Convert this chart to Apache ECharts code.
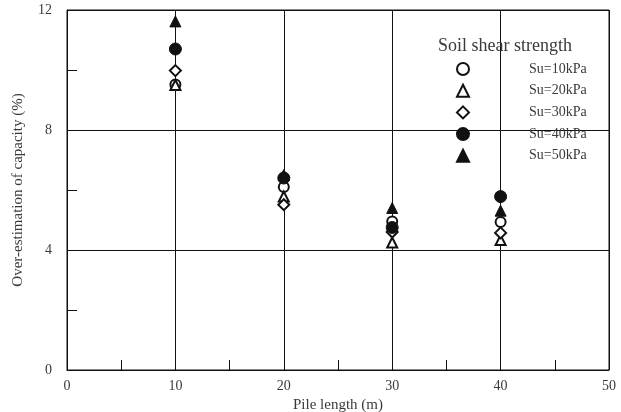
<!DOCTYPE html>
<html>
<head>
<meta charset="utf-8">
<script src="https://cdn.jsdelivr.net/npm/echarts@6/dist/echarts.min.js"></script>
<style>
  html, body { margin: 0; padding: 0; background: #fff; }
  #chart { width: 621px; height: 412px; }
</style>
</head>
<body>
<div id="chart"></div>
<script>
// pile length (m) on x, over-estimation of capacity (%) on y
const pileLength = [10, 20, 30, 40];
const su10 = [9.52, 6.1, 4.95, 4.93];
const su20 = [9.5, 5.78, 4.25, 4.33];
const su30 = [9.98, 5.51, 4.6, 4.57];
const su40 = [10.7, 6.4, 4.75, 5.78];
const su50 = [11.62, 6.5, 5.4, 5.31];
const seriesNames = ['Su=10kPa', 'Su=20kPa', 'Su=30kPa', 'Su=40kPa', 'Su=50kPa'];

const FONT = '"Liberation Serif", "DejaVu Serif", serif';
const INK = '#111';
const TEXT = '#3a3a3a';

function pts(ys) {
  return pileLength.map((x, i) => [x, ys[i]]);
}

// open markers: white fill, black edge; filled markers: solid black
function makeSeries(name, ys, symbol, size, filled) {
  return {
    name: name,
    type: 'scatter',
    data: pts(ys),
    symbol: symbol,
    symbolSize: size,
    itemStyle: filled
      ? { color: INK, borderColor: INK, borderWidth: 1, opacity: 1 }
      : { color: '#fff', borderColor: INK, borderWidth: 2, opacity: 1 },
  };
}

const chart = echarts.init(document.getElementById('chart'));

chart.setOption({
  animation: false,
  backgroundColor: '#fff',
  title: {
    text: 'Soil shear strength',
    left: 433,
    top: 32,
    textStyle: { fontFamily: FONT, fontSize: 18, fontWeight: 'normal', color: TEXT },
  },
  legend: {
    orient: 'vertical',
    left: 456,
    top: 62,
    padding: 0,
    itemWidth: 12,
    itemHeight: 12,
    itemGap: 7.7,
    textStyle: { fontFamily: FONT, fontSize: 14, color: TEXT, lineHeight: 12, padding: [0, 0, 0, 55] },
    data: seriesNames,
  },
  grid: {
    left: 67, right: 12, top: 10, bottom: 42,
    outerBoundsMode: 'none',
    show: true, borderColor: INK, borderWidth: 1,
  },
  xAxis: {
    type: 'value',
    min: 0, max: 50, interval: 10,
    name: 'Pile length (m)',
    nameLocation: 'middle',
    nameGap: 22,
    nameTextStyle: { fontFamily: FONT, fontSize: 15, color: TEXT },
    axisLine: { lineStyle: { color: INK } },
    axisTick: { show: false, inside: true },
    minorTick: { show: true, splitNumber: 2, length: 10, lineStyle: { color: INK } },
    axisLabel: { fontFamily: FONT, fontSize: 14, color: TEXT, margin: 9 },
    splitLine: { show: true, lineStyle: { color: INK, width: 1 } },
  },
  yAxis: {
    type: 'value',
    min: 0, max: 12, interval: 4,
    name: 'Over-estimation of capacity (%)',
    nameLocation: 'middle',
    nameGap: 41,
    nameTextStyle: { fontFamily: FONT, fontSize: 15, color: TEXT },
    axisLine: { lineStyle: { color: INK } },
    axisTick: { show: false, inside: true },
    minorTick: { show: true, splitNumber: 2, length: 10, lineStyle: { color: INK } },
    axisLabel: { fontFamily: FONT, fontSize: 14, color: TEXT, margin: 15 },
    splitLine: { show: true, lineStyle: { color: INK, width: 1 } },
  },
  series: [
    makeSeries(seriesNames[0], su10, 'circle', 10, false),
    makeSeries(seriesNames[1], su20, 'triangle', 10, false),
    makeSeries(seriesNames[2], su30, 'diamond', 11, false),
    makeSeries(seriesNames[3], su40, 'circle', 12, true),
    makeSeries(seriesNames[4], su50, 'triangle', 11, true),
  ],
});
</script>
</body>
</html>
